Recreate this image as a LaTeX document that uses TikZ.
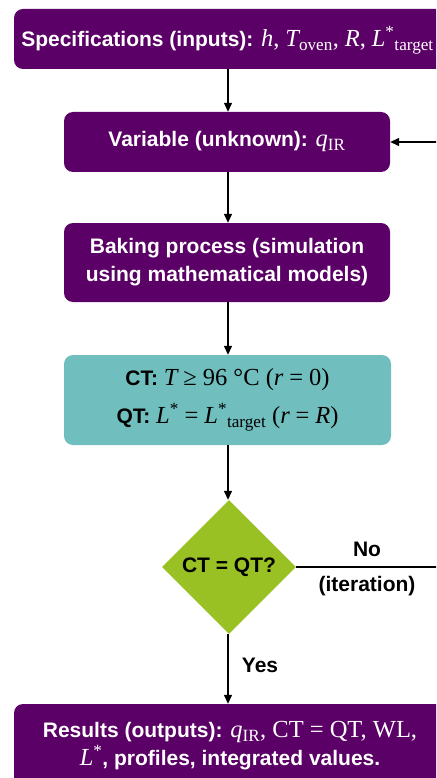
\documentclass[tikz,border=0pt]{standalone}
\usepackage{fontspec}
\setmainfont{Liberation Sans}
\newfontfamily\tms{Liberation Serif}
\usetikzlibrary{shapes.geometric,arrows.meta}
\definecolor{boxpurple}{RGB}{91,0,102}
\definecolor{boxteal}{RGB}{112,190,190}
\definecolor{boxgreen}{RGB}{153,193,36}
\newcommand{\tmsz}{\tms\mdseries\fontsize{24.5}{27}\selectfont}
\newcommand{\mi}[1]{{\tmsz\itshape #1}}
\newcommand{\mr}[1]{{\tmsz #1}}
\newcommand{\sbs}[1]{{\tmsz\textsubscript{#1}}}
\newcommand{\sps}[1]{{\tmsz\textsuperscript{#1}}}
\begin{document}
\begin{tikzpicture}[x=1pt,y=-1pt,
  purplebox/.style={rectangle, rounded corners=9pt, fill=boxpurple, text=white, font=\fontsize{21}{28}\selectfont\bfseries, align=center, inner sep=0pt},
  tealbox/.style={rectangle, rounded corners=9pt, fill=boxteal, text=black, font=\fontsize{21}{38}\selectfont\bfseries, align=center, inner sep=0pt},
  decision/.style={diamond, aspect=1, fill=boxgreen, minimum width=134pt, minimum height=134pt, inner sep=0pt, font=\fontsize{21}{24}\selectfont\bfseries},
  lbl/.style={font=\fontsize{21}{24}\selectfont\bfseries, inner sep=0pt},
  conn/.style={line width=1.3pt, -{Triangle[length=9pt,width=8pt]}}
]
\useasboundingbox (0,0) rectangle (436,778);
\clip (0,0) rectangle (436,778);
\node[purplebox, minimum width=432pt, minimum height=60pt] (spec) at (230,39) {};
\node[text=white, font=\fontsize{21}{24}\selectfont\bfseries, inner sep=0pt] (spect) at (227.5,40) {Specifications (inputs): \mi{h}\mr{,} \mi{T}\sbs{oven}\mr{,} \mi{R}\mr{,} \mi{L}\sps{*}\sbs{target}};
\node[purplebox, minimum width=326pt, minimum height=60pt] (var) at (227,142) {Variable (unknown): \mi{q}\sbs{IR}};
\node[purplebox, minimum width=326pt, minimum height=79pt] (bake) at (227,262.5) {Baking process (simulation\\using mathematical models)};
\node[tealbox, minimum width=327pt, minimum height=90pt] (ct) at (227.5,400) {CT: \mi{T} \mr{≥ 96 °C (}\mi{r} \mr{= 0)}\\QT: \mi{L}\sps{*} \mr{=} \mi{L}\sps{*}\sbs{target} \mr{(}\mi{r} \mr{=} \mi{R}\mr{)}};
\node[decision] (dec) at (229,567) {CT = QT?};
\node[purplebox, minimum width=432pt, minimum height=84pt] (res) at (230,746) {Results (outputs): \mi{q}\sbs{IR}\mr{, CT = QT, WL,}\\\mi{L}\sps{*}, profiles, integrated values.};
\coordinate (back) at (446,567);
\node[lbl] (no) at (367,549) {No};
\node[lbl] (iter) at (367,586) {(iteration)};
\node[lbl] (yes) at (260,665) {Yes};
\draw[conn] (228,69) -- (var.north -| 228,0);
\draw[conn] (var.south -| 228,0) -- (bake.north -| 228,0);
\draw[conn] (bake.south -| 228,0) -- (ct.north -| 228,0);
\draw[conn] (ct.south -| 228,0) -- (dec.north -| 228,0);
\draw[conn] (dec.south -| 228,0) -- (res.north -| 228,0);
\draw[conn] (dec.east) -- (back) |- (var.east);
\end{tikzpicture}
\end{document}
